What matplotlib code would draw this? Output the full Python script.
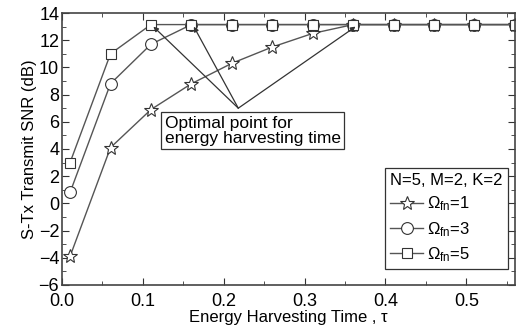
import numpy as np
import matplotlib
matplotlib.use("Agg")
import matplotlib.pyplot as plt
from matplotlib.ticker import MultipleLocator

plt.rcParams['font.family'] = ['Liberation Sans', 'DejaVu Sans']
plt.rcParams['mathtext.fontset'] = 'custom'
plt.rcParams['mathtext.rm'] = 'Liberation Sans'
plt.rcParams['mathtext.it'] = 'Liberation Sans'

tau = [0.01, 0.06, 0.11, 0.16, 0.21, 0.26, 0.31, 0.36, 0.41, 0.46, 0.51, 0.56]
snr_w1 = [-3.9, 4.1, 6.9, 8.8, 10.3, 11.5, 12.5, 13.15, 13.15, 13.15, 13.15, 13.15]
snr_w3 = [0.8, 8.8, 11.7, 13.15, 13.15, 13.15, 13.15, 13.15, 13.15, 13.15, 13.15, 13.15]
snr_w5 = [3.0, 11.0, 13.15, 13.15, 13.15, 13.15, 13.15, 13.15, 13.15, 13.15, 13.15, 13.15]

fig = plt.figure(figsize=(5.23, 3.34), dpi=100)
ax = fig.add_axes([0.1185, 0.147, 0.866, 0.814])

lc = '#555555'
ax.plot(tau, snr_w1, color=lc, lw=1, marker='*', ms=10, mfc='white', mec='#333333', mew=0.8,
        label=r'$\Omega_{\mathrm{fn}}$=1')
ax.plot(tau, snr_w3, color=lc, lw=1, marker='o', ms=8.5, mfc='white', mec='#333333', mew=0.8,
        label=r'$\Omega_{\mathrm{fn}}$=3')
ax.plot(tau, snr_w5, color=lc, lw=1, marker='s', ms=7.5, mfc='white', mec='#333333', mew=0.8,
        label=r'$\Omega_{\mathrm{fn}}$=5')

ax.set_xlim(0, 0.56)
ax.set_ylim(-6, 14)
ax.xaxis.set_major_locator(MultipleLocator(0.1))
ax.xaxis.set_minor_locator(MultipleLocator(0.05))
ax.yaxis.set_major_locator(MultipleLocator(2))
ax.yaxis.set_minor_locator(MultipleLocator(1))
ax.xaxis.set_major_formatter(matplotlib.ticker.FormatStrFormatter('%.1f'))
ax.tick_params(which='both', direction='in', top=True, right=True, labelsize=13, color='#333333')
ax.tick_params(axis='y', pad=2)
ax.tick_params(axis='x', pad=6)
ax.tick_params(which='major', length=5)
ax.tick_params(which='minor', length=3)
for s in ax.spines.values():
    s.set_linewidth(1.2)
    s.set_color('#444444')

ax.set_xlabel('Energy Harvesting Time , \u03c4', fontsize=12, labelpad=0)
ax.set_ylabel('S-Tx Transmit SNR (dB)', fontsize=12, labelpad=1)

src = (0.218, 7.0)
for tx in [0.11, 0.16, 0.36]:
    ax.annotate('', xy=(tx + 0.003, 13.0), xytext=src,
                arrowprops=dict(arrowstyle='-|>', color='#333333', lw=0.9, mutation_scale=7,
                                shrinkA=0, shrinkB=0))
ax.text(0.127, 5.35, 'Optimal point for\nenergy harvesting time', fontsize=12.5,
        va='center', ha='left', linespacing=1.0,
        bbox=dict(boxstyle='square,pad=0.2', fc='white', ec='#333333', lw=0.9))

leg = ax.legend(title='N=5, M=2, K=2', loc='lower right', bbox_to_anchor=(0.995, 0.04),
                fontsize=12, title_fontsize=12, fancybox=False, edgecolor='#333333',
                framealpha=1, handlelength=2.0, handletextpad=0.2, borderpad=0.3,
                labelspacing=0.4, borderaxespad=0.3)
leg.get_frame().set_linewidth(0.9)
leg._legend_box.align = 'left'

fig.savefig('out.png', dpi=100)
